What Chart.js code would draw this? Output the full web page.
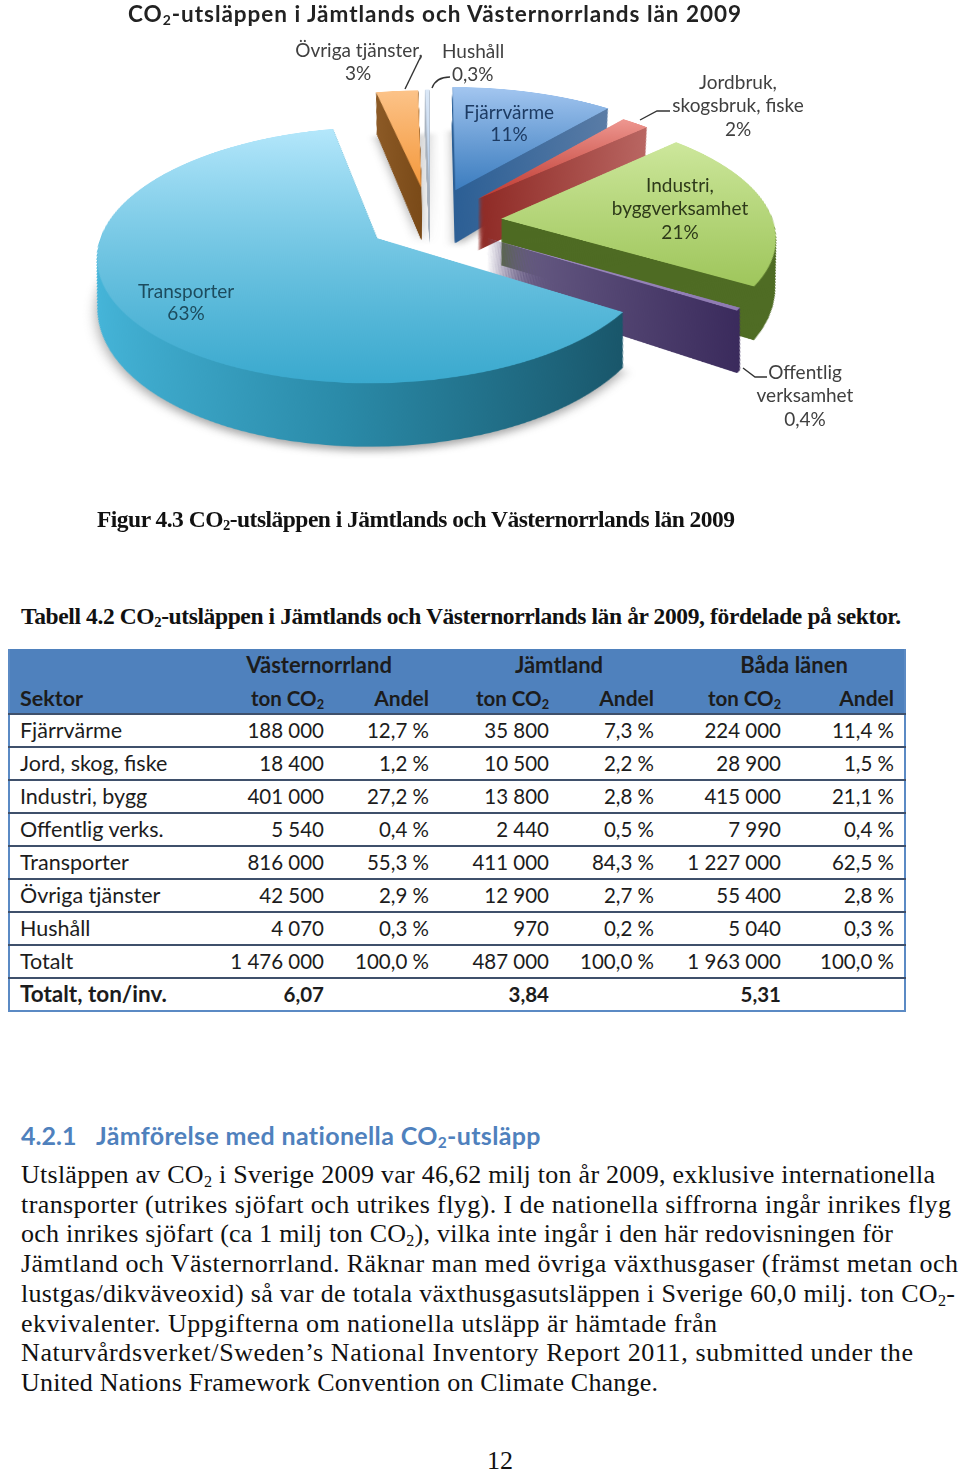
<!DOCTYPE html>
<html lang="sv">
<head>
<meta charset="utf-8">
<title>CO2-utsläppen</title>
<script src="https://cdn.jsdelivr.net/npm/chart.js@4"></script>
<style>
html, body { margin: 0; padding: 0; width: 960px; height: 1472px; overflow: hidden; background: #fff; }
#page { position: relative; width: 960px; height: 1472px; overflow: hidden; }
#pieBox { position: absolute; left: -70px; top: -278px; width: 1000px; height: 1000px; transform: perspective(1890px) rotateX(63.4deg); }
.t { position: absolute; white-space: nowrap; line-height: 30px; height: 30px; color: #111; }
.t sub { font-size: .62em; line-height: 0; vertical-align: -0.22em; }
.lbl { font-family: Lato, sans-serif; font-size: 19px; color: #404040; }
.cell { font-family: Lato, sans-serif; font-size: 20.5px; color: #1c1c1c; }
.serif { font-family: "Liberation Serif", serif; font-size: 26px; color: #111; }
.line { position: absolute; left: 8px; width: 898px; height: 1.5px; background: #3f506b; }
svg { position: absolute; left: 0; top: 0; }
</style>
</head>
<body>
<div id="page">
  <div id="pieBox"><canvas id="pie" width="1000" height="1000"></canvas></div>
  <svg width="960" height="460" fill="none" stroke="#333" stroke-width="1.4">
    <path d="M421 56 L405 89"/>
    <path d="M432 88 Q436 77 450 77"/>
    <path d="M640 120 L657 111 L670 111"/>
    <path d="M743 368 L755 377 L767 377"/>
  </svg>
</div>
<script>
const pieNames = ['Fjärrvärme', 'Jordbruk, skogsbruk, fiske', 'Industri, byggverksamhet', 'Offentlig verksamhet', 'Transporter', 'Övriga tjänster', 'Hushåll'];
const pieValues = [11, 2, 21, 0.4, 63, 3, 0.3];

const topColors = [['#a3c6f0', '#3c7dbf'], ['#ee9790', '#bf3a31'], ['#cde79c', '#9fc65c'], ['#a08fc0', '#8e7ab2'], ['#b4e7fb', '#3aa9ce'], ['#fcc389', '#f4993d'], ['#dbe8f7', '#b9d0ec']];
const wallColors = [['#2c5f95', '#5a7ca6'], ['#8e2a25', '#b96662'], ['#4d6a22', '#4f6c24'], ['#6d6289', '#3a2a5c'], ['#46b6da', '#2a8aa8', '#19566a'], ['#8c5a26', '#7a4a18'], ['#aab4c0', '#aab4c0']];
const drawOrder = [6, 5, 0, 1, 2, 3, 4];
const sliceRadius = [278, 265, 272, 268, 272, 262, 272];
const sliceExplode = [78, 72, 72, 66, 63, 80, 72];
const sliceDepth = [120, 115, 100, 110, 98, 120, 120];
const sliceShadow = [true, false, false, false, true, true, true];

const groups = ['Västernorrland', 'Jämtland', 'Båda länen'];
const colHeads = ['ton CO2', 'Andel', 'ton CO2', 'Andel', 'ton CO2', 'Andel'];
const sectors = ['Fjärrvärme', 'Jord, skog, fiske', 'Industri, bygg', 'Offentlig verks.', 'Transporter', 'Övriga tjänster', 'Hushåll', 'Totalt', 'Totalt, ton/inv.'];
const vnTon = ['188 000', '18 400', '401 000', '5 540', '816 000', '42 500', '4 070', '1 476 000', '6,07'];
const vnAndel = ['12,7 %', '1,2 %', '27,2 %', '0,4 %', '55,3 %', '2,9 %', '0,3 %', '100,0 %', ''];
const jlTon = ['35 800', '10 500', '13 800', '2 440', '411 000', '12 900', '970', '487 000', '3,84'];
const jlAndel = ['7,3 %', '2,2 %', '2,8 %', '0,5 %', '84,3 %', '2,7 %', '0,2 %', '100,0 %', ''];
const allTon = ['224 000', '28 900', '415 000', '7 990', '1 227 000', '55 400', '5 040', '1 963 000', '5,31'];
const allAndel = ['11,4 %', '1,5 %', '21,1 %', '0,4 %', '62,5 %', '2,8 %', '0,3 %', '100,0 %', ''];

const paragraph = [
  'Utsläppen av CO2 i Sverige 2009 var 46,62 milj ton år 2009, exklusive internationella',
  'transporter (utrikes sjöfart och utrikes flyg). I de nationella siffrorna ingår inrikes flyg',
  'och inrikes sjöfart (ca 1 milj ton CO2), vilka inte ingår i den här redovisningen för',
  'Jämtland och Västernorrland. Räknar man med övriga växthusgaser (främst metan och',
  'lustgas/dikväveoxid) så var de totala växthusgasutsläppen i Sverige 60,0 milj. ton CO2-',
  'ekvivalenter. Uppgifterna om nationella utsläpp är hämtade från',
  'Naturvårdsverket/Sweden’s National Inventory Report 2011, submitted under the',
  'United Nations Framework Convention on Climate Change.'
];
const paragraphEnds = [935, 951, 893, 958, 955, 717, 913, 658];

const page = document.getElementById('page');

// one line of text, cy is the vertical middle. fit = stretch to this width
function put(html, x, cy, cls, o = {}) {
  const el = document.createElement('div');
  el.className = 't ' + cls;
  el.innerHTML = html.replace(/CO2/g, 'CO<sub>2</sub>');
  el.style.top = (cy - 15) + 'px';
  if (o.bold) el.style.fontWeight = 'bold';
  if (o.color) el.style.color = o.color;
  if (o.size) el.style.fontSize = o.size + 'px';
  page.appendChild(el);
  if (o.fit) {
    const w = el.getBoundingClientRect().width;
    el.style.letterSpacing = ((o.fit - w) / (el.textContent.length - 1)) + 'px';
  }
  const w = el.getBoundingClientRect().width;
  if (o.align === 'right') el.style.left = (x - w) + 'px';
  else if (o.align === 'center') el.style.left = (x - w / 2) + 'px';
  else el.style.left = x + 'px';
  return el;
}

// pie labels
put('CO2-utsläppen i Jämtlands och Västernorrlands län 2009', 128, 14, 'lbl', { bold: true, size: 22.5, color: '#222', fit: 613 });
put('Övriga tjänster,', 359, 50, 'lbl', { align: 'center' });
put('3%', 358, 73, 'lbl', { align: 'center' });
put('Hushåll', 442, 51, 'lbl');
put('0,3%', 452, 74, 'lbl');
put('Fjärrvärme', 509, 112, 'lbl', { align: 'center', color: '#1d3b63' });
put('11%', 509, 134, 'lbl', { align: 'center', color: '#1d3b63' });
put('Jordbruk,', 738, 82, 'lbl', { align: 'center' });
put('skogsbruk, fiske', 738, 105, 'lbl', { align: 'center' });
put('2%', 738, 129, 'lbl', { align: 'center' });
put('Industri,', 680, 185, 'lbl', { align: 'center', color: '#2e3a1a' });
put('byggverksamhet', 680, 208, 'lbl', { align: 'center', color: '#2e3a1a' });
put('21%', 680, 232, 'lbl', { align: 'center', color: '#2e3a1a' });
put('Offentlig', 805, 372, 'lbl', { align: 'center' });
put('verksamhet', 805, 395, 'lbl', { align: 'center' });
put('0,4%', 805, 419, 'lbl', { align: 'center' });
put('Transporter', 186, 291, 'lbl', { align: 'center', color: '#1d4c5e' });
put('63%', 186, 313, 'lbl', { align: 'center', color: '#1d4c5e' });

put('Figur 4.3 CO2-utsläppen i Jämtlands och Västernorrlands län 2009', 97, 519, 'serif', { bold: true, size: 23.5, fit: 638 });
put('Tabell 4.2 CO2-utsläppen i Jämtlands och Västernorrlands län år 2009, fördelade på sektor.', 21, 616, 'serif', { bold: true, size: 23.5, fit: 880 });

// table
const tableTop = 649, headH = 65, rowH = 33;
const headBg = document.createElement('div');
headBg.style.cssText = `position:absolute;left:8px;top:${tableTop}px;width:898px;height:${headH}px;background:#4f81bd`;
page.appendChild(headBg);
['left:8px', 'left:904px'].forEach(pos => {
  const b = document.createElement('div');
  b.style.cssText = `position:absolute;${pos};top:${tableTop}px;width:2px;height:363px;background:#5b8ac4`;
  page.appendChild(b);
});
for (let i = 0; i <= 9; i++) {
  const l = document.createElement('div');
  l.className = 'line';
  l.style.top = (tableTop + headH + i * rowH - 1) + 'px';
  if (i === 9) { l.style.background = '#5b8ac4'; l.style.height = '2px'; }
  page.appendChild(l);
}
const groupCenters = [319, 559, 794];
const colRights = [324, 429, 549, 654, 781, 894];
const columns = [vnTon, vnAndel, jlTon, jlAndel, allTon, allAndel];
groups.forEach((g, i) => put(g, groupCenters[i], 665, 'cell', { bold: true, align: 'center', size: 22 }));
put('Sektor', 20, 698, 'cell', { bold: true, size: 21.5 });
colHeads.forEach((h, i) => put(h, colRights[i], 698, 'cell', { bold: true, align: 'right', size: i % 2 ? 21 : 20.5 }));
sectors.forEach((s, r) => {
  const cy = 730 + r * rowH;
  const bold = r === sectors.length - 1;
  put(s, 20, cy, 'cell', { bold, size: bold ? 22.5 : 21.5 });
  columns.forEach((col, c) => {
    if (col[r]) put(col[r], colRights[c], cy, 'cell', { bold, align: 'right' });
  });
});

// text below
put('4.2.1', 21, 1135, 'lbl', { bold: true, size: 25, color: '#4f81bd' });
put('Jämförelse med nationella CO2-utsläpp', 96, 1135, 'lbl', { bold: true, size: 25, color: '#4f81bd', fit: 445 });
paragraph.forEach((line, i) => {
  put(line, 21, 1175 + i * 29.7, 'serif', { fit: paragraphEnds[i] - 21 });
});
put('12', 500, 1461, 'serif', { align: 'center' });

function arcBounds(arc, i) {
  const xs = [arc.x], ys = [arc.y];
  for (let n = 0; n <= 24; n++) {
    const a = arc.startAngle + (arc.endAngle - arc.startAngle) * n / 24;
    xs.push(arc.x + Math.cos(a) * sliceRadius[i]);
    ys.push(arc.y + Math.sin(a) * sliceRadius[i]);
  }
  return { x0: Math.min(...xs), x1: Math.max(...xs), y0: Math.min(...ys), y1: Math.max(...ys) };
}

function gradient(ctx, x0, y0, x1, y1, stops) {
  const g = ctx.createLinearGradient(x0, y0, x1, y1);
  stops.forEach((c, i) => g.addColorStop(i / (stops.length - 1), c));
  return g;
}

// draws the slices back to front, each one stacked down to look like a thick 3D pie.
// the canvas is tilted with css, the x squeeze keeps the side walls upright on screen
const thickPie = {
  id: 'thickPie',
  beforeDatasetsDraw(chart) {
    const ctx = chart.ctx;
    const arcs = chart.getDatasetMeta(0).data;
    drawOrder.forEach(i => {
      const arc = arcs[i];
      const base = arc.options;
      const mid = (arc.startAngle + arc.endAngle) / 2;
      const dx = Math.cos(mid) * sliceExplode[i], dy = Math.sin(mid) * sliceExplode[i];
      arc.outerRadius = sliceRadius[i];
      const b = arcBounds(arc, i);

      arc.options = Object.assign({}, base, { backgroundColor: gradient(ctx, b.x0, 0, b.x1, 0, wallColors[i]) });
      for (let k = sliceDepth[i]; k > 0; k--) {
        const squeeze = 1 - k * 0.894 / 1750;
        ctx.save();
        if (k === sliceDepth[i] && sliceShadow[i]) {
          ctx.shadowColor = 'rgba(60,60,60,0.45)';
          ctx.shadowBlur = 12;
          ctx.shadowOffsetY = 6;
        }
        ctx.translate(arc.x, k);
        ctx.scale(squeeze, 1);
        ctx.translate(dx - arc.x, dy);
        arc.draw(ctx);
        ctx.restore();
      }

      arc.options = Object.assign({}, base, { backgroundColor: gradient(ctx, 0, b.y0, 0, b.y1, topColors[i]) });
      ctx.save();
      ctx.translate(dx, dy);
      arc.draw(ctx);
      ctx.restore();
      arc.options = base;
    });
    return false;
  }
};

new Chart(document.getElementById('pie').getContext('2d'), {
  type: 'pie',
  data: {
    labels: pieNames,
    datasets: [{
      data: pieValues,
      backgroundColor: topColors.map(c => c[0]),
      borderWidth: 0
    }]
  },
  options: {
    responsive: false,
    animation: false,
    events: [],
    plugins: { legend: { display: false }, tooltip: { enabled: false } }
  },
  plugins: [thickPie]
});
</script>
</body>
</html>
